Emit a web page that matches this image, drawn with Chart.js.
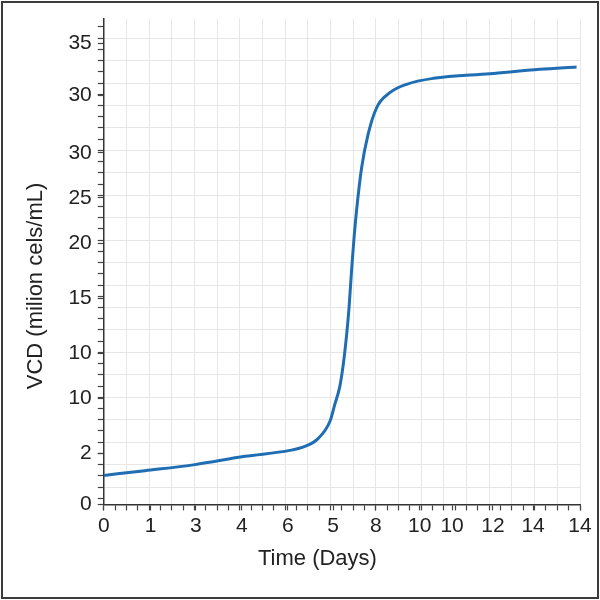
<!DOCTYPE html>
<html lang="en">
<head>
<meta charset="UTF-8">
<script src="https://cdn.jsdelivr.net/npm/chart.js@4"></script>
<title>VCD over time</title>
<style>
  html, body { margin: 0; padding: 0; background: #fff; }
  #wrap { position: relative; width: 600px; height: 600px; }
  #frame { position: absolute; left: 1px; top: 1px; width: 598px; height: 598px; box-sizing: border-box; border: 2px solid #3c3c3c; pointer-events: none; }
</style>
</head>
<body>
<div id="wrap">
  <canvas id="myChart" width="600" height="600"></canvas>
  <div id="frame"></div>
</div>
<script>
// curve (x in days, y in axis units: one label step = 5)
var days = [0, 1.21, 2.68, 4.15, 5.47, 5.91, 6.30, 6.65, 6.79, 6.94, 7.04, 7.14, 7.21, 7.29, 7.35, 7.43, 7.58, 7.77, 8.02, 8.41, 8.90, 9.69, 11.35, 12.82, 13.90];
var vcd = [2.83, 3.29, 3.88, 4.69, 5.27, 5.66, 6.42, 8.11, 9.74, 11.52, 13.64, 16.57, 19.17, 23.08, 25.68, 28.61, 32.84, 36.10, 38.70, 40.17, 40.99, 41.57, 42.02, 42.45, 42.68];

// tick labels as printed on the chart, and where they sit
var xTicks = [0, 1.38, 2.71, 4.06, 5.41, 6.74, 8.0, 9.29, 10.24, 11.44, 12.62, 14];
var xTickLabels = ['0', '1', '3', '4', '6', '5', '8', '10', '10', '12', '14', '14'];
var yTicks = [0, 5, 10.35, 14.75, 20.1, 25.5, 29.9, 34.3, 39.9, 45];
var yTickLabels = ['0', '2', '10', '10', '15', '20', '25', '30', '30', '35'];

var xMax = 14, yMax = 47.4;
var xGridFirst = 0, xGridStep = 2 / 3;
var yGridFirst = 1.69, yGridStep = 2.19;

// the axis titles sit off-centre in the picture: pad them with trailing spaces
var pad = '\u00a0\u00a0\u00a0\u00a0\u00a0\u00a0\u00a0\u00a0';

// minor ticks every half grid cell, grid line on every other one, plus the labelled ticks
function buildTicks(labelVals, labels, gridFirst, gridStep, max) {
    var t = [];
    var half = gridStep / 2;
    for (var k = -2; ; k++) {
        var v = gridFirst + k * half;
        if (v < -1e-6) continue;
        if (v > max + 1e-6) break;
        t.push({ value: v, grid: k % 2 === 0, text: '' });
    }
    for (var i = 0; i < labelVals.length; i++) {
        t.push({ value: labelVals[i], grid: false, text: labels[i] });
    }
    t.sort(function (a, b) { return a.value - b.value; });
    return t;
}

function gridColor(ctx) {
    return ctx.tick && ctx.tick.grid ? '#e6e6e6' : 'rgba(0,0,0,0)';
}

var points = [];
for (var i = 0; i < days.length; i++) {
    points.push({ x: days[i], y: vcd[i] });
}

var font = 'Liberation Sans, Arial, sans-serif';
var ctx = document.getElementById('myChart').getContext('2d');
var myChart = new Chart(ctx, {
    type: 'line',
    data: {
        datasets: [{
            data: points,
            borderColor: '#1f6db3',
            borderWidth: 3,
            pointRadius: 0,
            cubicInterpolationMode: 'monotone',
            fill: false,
        }],
    },
    options: {
        responsive: false,
        animation: false,
        layout: { padding: { left: 19, right: 20, top: 18, bottom: 20 } },
        plugins: { legend: { display: false }, tooltip: { enabled: false } },
        scales: {
            x: {
                type: 'linear',
                min: 0,
                max: xMax,
                afterBuildTicks: function (axis) {
                    axis.ticks = buildTicks(xTicks, xTickLabels, xGridFirst, xGridStep, xMax);
                },
                grid: { color: gridColor, lineWidth: 1, tickColor: '#444', tickLength: 6, tickWidth: 1.2 },
                border: { color: '#333', width: 1.5 },
                ticks: {
                    autoSkip: false,
                    maxRotation: 0,
                    padding: 3,
                    color: '#222',
                    font: { family: font, size: 21 },
                    callback: function (value, index, ticks) { return ticks[index].text; },
                },
                title: {
                    display: true,
                    text: 'Time (Days)' + pad,
                    color: '#222',
                    font: { family: font, size: 22 },
                    padding: { top: 4, bottom: 8 },
                },
            },
            y: {
                type: 'linear',
                min: 0,
                max: yMax,
                afterBuildTicks: function (axis) {
                    axis.ticks = buildTicks(yTicks, yTickLabels, yGridFirst, yGridStep, yMax);
                },
                grid: { color: gridColor, lineWidth: 1, tickColor: '#444', tickLength: 6, tickWidth: 1.2 },
                border: { color: '#333', width: 1.5 },
                ticks: {
                    autoSkip: false,
                    padding: 6,
                    color: '#222',
                    font: { family: font, size: 21 },
                    callback: function (value, index, ticks) { return ticks[index].text; },
                },
                title: {
                    display: true,
                    text: 'VCD (milion cels/mL)' + pad,
                    color: '#222',
                    font: { family: font, size: 22 },
                    padding: { top: 4, bottom: 13 },
                },
            },
        },
    },
});
</script>
</body>
</html>
